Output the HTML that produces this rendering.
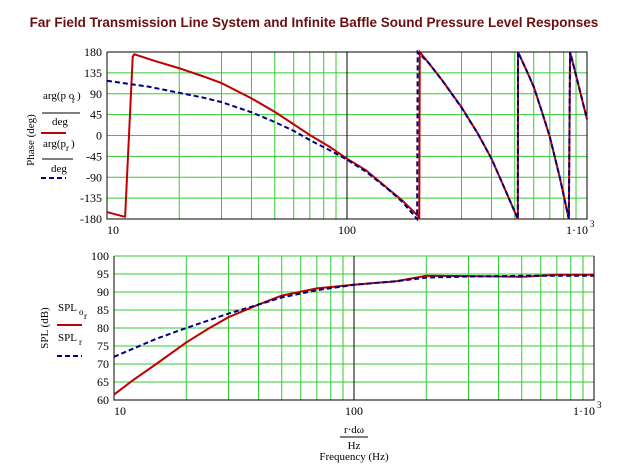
<!DOCTYPE html>
<html><head><meta charset="utf-8"><style>
body{margin:0;background:#fff;width:629px;height:463px;overflow:hidden}
svg text{font-family:"Liberation Serif",serif;font-size:12px;fill:#000}
</style></head><body>
<svg width="629" height="463" id="svg">
<text x="314" y="27" text-anchor="middle" style="font-family:'Liberation Sans',sans-serif;font-weight:bold;font-size:13.5px;fill:#6b0f0f">Far Field Transmission Line System and Infinite Baffle Sound Pressure Level Responses</text>
<g id="top"></g>
<g id="bot"></g>
<g style="font-size:11px">
<text x="34" y="140" transform="rotate(-90 34 140)" text-anchor="middle" style="font-size:11px">Phase (deg)</text>
<text x="43" y="99" style="font-size:11px">arg(p o</text><text x="72" y="103" style="font-size:9px">r</text><text x="77" y="99" style="font-size:11px">)</text>
<line x1="42" y1="113" x2="80" y2="113" stroke="#000"/>
<text x="52" y="125" style="font-size:11px">deg</text>
<line x1="41" y1="133" x2="66" y2="133" stroke="#c00000" stroke-width="2"/>
<text x="43" y="147" style="font-size:11px">arg(p</text><text x="66" y="151" style="font-size:9px">r</text><text x="71" y="147" style="font-size:11px">)</text>
<line x1="42" y1="159" x2="73" y2="159" stroke="#000"/>
<text x="51" y="172" style="font-size:11px">deg</text>
<line x1="41" y1="178" x2="66" y2="178" stroke="#000080" stroke-width="2" stroke-dasharray="5,3"/>
</g>
<g>
<text x="48" y="328" transform="rotate(-90 48 328)" text-anchor="middle" style="font-size:11px">SPL (dB)</text>
<text x="58" y="311" style="font-size:11px">SPL</text><text x="79" y="315" style="font-size:9px">o</text><text x="84" y="319" style="font-size:9px">r</text>
<line x1="57" y1="325" x2="82" y2="325" stroke="#c00000" stroke-width="2"/>
<text x="58" y="341" style="font-size:11px">SPL</text><text x="79" y="345" style="font-size:9px">r</text>
<line x1="57" y1="356" x2="82" y2="356" stroke="#000080" stroke-width="2" stroke-dasharray="5,3"/>
</g>
<g>
<text x="354" y="433" text-anchor="middle" style="font-size:11px">r·dω</text>
<line x1="340" y1="437" x2="368" y2="437" stroke="#000"/>
<text x="354" y="449" text-anchor="middle" style="font-size:11px">Hz</text>
<text x="354" y="460" text-anchor="middle" style="font-size:11px">Frequency (Hz)</text>
</g>
</svg>
<script>
const phaseRedF=[10,11.8,11.9,12.8,13,16,20,25,30,40,50,60,70,85,100,120,150,170,199,200,201,220,250,300,350,400,450,515,516,560,600,650,700,770,840,850,900,1000];
const phaseRedV=[-165,-175,-175,170,175,160,145,128,113,80,51,24,1,-25,-50,-75,-117,-140,-175,-180,180,155,118,61,5,-50,-110,-180,180,140,105,50,-3,-90,-180,180,130,35];
const phaseBlueF=[10,15,20,25,30,40,50,60,70,85,100,120,150,170,196,197,220,250,300,350,400,450,515,516,560,600,650,700,770,840,850,900,1000];
const phaseBlueV=[118,105,92,82,72,50,29,10,-10,-32,-52,-78,-118,-143,-180,180,155,118,60,5,-50,-110,-180,180,140,105,50,-3,-90,-180,180,130,35];
const splRedF=[10,12,15,20,25,30,40,50,70,100,150,200,300,400,500,700,1000];
const splRedV=[61.5,65.5,70,76,80,83,86.5,89,91,92,93,94.5,94.4,94.3,94.2,94.8,94.8];
const splBlueF=[10,15,20,30,40,50,70,100,150,200,300,500,700,1000];
const splBlueV=[72,77,80,84,86.5,88.5,90.5,92,93,94,94.3,94.5,94.5,94.5];
const phaseTicks=[180,135,90,45,0,-45,-90,-135,-180];
const splTicks=[100,95,90,85,80,75,70,65,60];
const NS="http://www.w3.org/2000/svg";
function mk(p,t,a){const e=document.createElementNS(NS,t);for(const k in a)e.setAttribute(k,a[k]);p.appendChild(e);return e;}
function plot(g,L,R,T,B,ymin,ymax,ticks,series,topGreen){
  const xs=f=>L+(Math.log10(f)-1)/2*(R-L);
  const ys=v=>B-(v-ymin)/(ymax-ymin)*(B-T);
  for(let d=10;d<=100;d*=10)for(let m=2;m<=9;m++){
    const l=mk(g,'line',{x1:xs(m*d),x2:xs(m*d),y1:T,y2:B,stroke:'#33cc33'});
    
    }
  ticks.forEach(v=>{
    const l=mk(g,'line',{x1:L,x2:R,y1:ys(v),y2:ys(v),stroke:'#33cc33'});
    
    
    const t=mk(g,'text',{x:L-5,y:ys(v)+4,'text-anchor':'end'});t.textContent=v;
    
    });
  mk(g,'line',{x1:xs(100),x2:xs(100),y1:T,y2:B,stroke:'#000'});
  mk(g,'path',{d:`M${L},${T}V${B}H${R}V${T}`+(topGreen?'':`H${L}`),fill:'none',stroke:'#000'});
  [[10,'10'],[100,'100']].forEach(([f,s],i)=>{const t=mk(g,'text',{x:xs(f)+(i?0:6),y:B+15,'text-anchor':'middle'});t.textContent=s;
    
    });
  const t=mk(g,'text',{x:R-10,y:B+15,'text-anchor':'middle'});t.textContent='1·10';
  
  
  const s=mk(g,'text',{x:R+3,y:B+8,style:'font-size:9px'});s.textContent='3';
  series.forEach(([F,V,c,dash,name])=>{
    const p=mk(g,'polyline',{points:F.map((f,i)=>xs(f)+','+ys(V[i])).join(' '),fill:'none',stroke:c,'stroke-width':2,'stroke-dasharray':dash});
    
    });
}
plot(document.getElementById('top'),107,587,52,219,-180,180,phaseTicks,
 [[phaseRedF,phaseRedV,'#c00000','none','phase-line-or'],[phaseBlueF,phaseBlueV,'#000080','5,3','phase-line-r']],false);
plot(document.getElementById('bot'),114,594,256,400,60,100,splTicks,
 [[splRedF,splRedV,'#c00000','none','spl-line-or'],[splBlueF,splBlueV,'#000080','5,3','spl-line-r']],true);
</script>
</body></html>
